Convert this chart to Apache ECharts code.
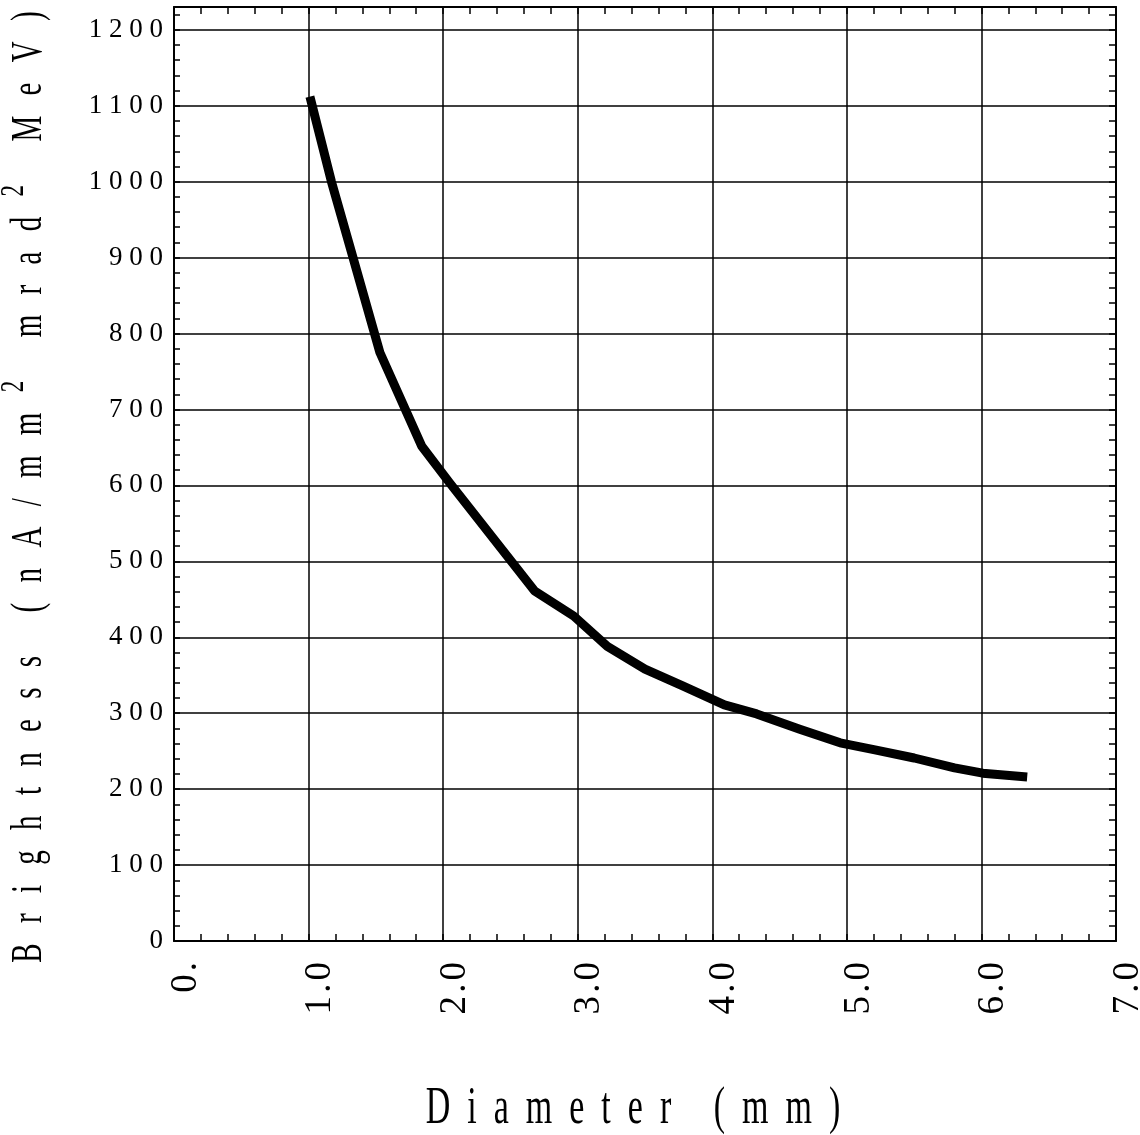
<!DOCTYPE html>
<html><head><meta charset="utf-8">
<script src="https://cdn.jsdelivr.net/npm/echarts@6/dist/echarts.min.js"></script>
<style>html,body{margin:0;padding:0;background:#fff}#c{width:1140px;height:1135px}</style>
</head><body><div id="c"></div>
<script>
// Data
const diameter   = [1.01, 1.17, 1.33, 1.53, 1.84, 2.05, 2.68, 2.97, 3.22, 3.50, 3.78, 4.09, 4.33, 4.65, 4.95, 5.20, 5.50, 5.80, 6.01, 6.34];
const brightness = [1112, 1000, 900,  775,  652,  603,  461,  428,  388,  358,  336,  311,  299,  279,  261,  252,  241,  228,  221,  216];
const xTickLabels = ['0.', '1.0', '2.0', '3.0', '4.0', '5.0', '6.0', '7.0'];
const yTickLabels = ['0', '100', '200', '300', '400', '500', '600', '700', '800', '900', '1000', '1100', '1200'];
const xTitle = 'Diameter (mm)';
const yTitleWords = ['Brightness', '(nA/mm{sup|2}', 'mrad{sup|2}', 'MeV)'];

function spaced(text, letterGap, wordGap) {
  return text.split(' ').map(w => Array.from(w).join(letterGap)).join(wordGap);
}
// spacing that keeps rich-text tags {sup|2} intact
function spacedRich(words, letterGap, wordGap) {
  return words.map(w => w.match(/\{[^}]*\}|./g).join(letterGap)).join(wordGap);
}
const FONT = '"Liberation Serif", "Times New Roman", serif';

const chart = echarts.init(document.getElementById('c'), null, {renderer: 'canvas'});
const XMIN = 0, XMAX = 7, YMIN = 0, YMAX = 1230;
const tickStyle = {color: '#000', width: 1.5};

chart.setOption({
  animation: false,
  backgroundColor: '#fff',
  grid: {left: 174, right: 24, top: 7, bottom: 194, containLabel: false, outerBoundsMode: 'none'},
  xAxis: [
    {
      type: 'value', position: 'bottom', min: XMIN, max: XMAX, interval: 1,
      axisLine: {show: true, onZero: false, lineStyle: {color: '#000', width: 2}},
      axisTick: {show: false},
      splitLine: {show: true, lineStyle: {color: '#000', width: 1.5}},
      axisLabel: {
        rotate: 90, margin: 21, color: '#000', fontFamily: FONT, fontSize: 37,
        verticalAlign: 'top', lineHeight: 24, hideOverlap: false,
        formatter: v => { const i = Math.round(v); return Math.abs(v - i) < 1e-6 && xTickLabels[i] !== undefined ? spaced(xTickLabels[i], '\u200A', '\u200A') : ''; }
      }
    },
    {
      type: 'value', position: 'bottom', min: XMIN, max: XMAX, interval: 0.2,
      axisLine: {show: false, onZero: false},
      axisTick: {show: true, inside: true, length: 7, lineStyle: tickStyle},
      splitLine: {show: false}, axisLabel: {show: false}
    },
    {
      type: 'value', position: 'top', min: XMIN, max: XMAX, interval: 0.2,
      axisLine: {show: true, onZero: false, lineStyle: {color: '#000', width: 2}},
      axisTick: {show: true, inside: true, length: 7, lineStyle: tickStyle},
      splitLine: {show: false}, axisLabel: {show: false}
    }
  ],
  yAxis: [
    {
      type: 'value', position: 'left', min: YMIN, max: YMAX, interval: 100,
      axisLine: {show: true, onZero: false, lineStyle: {color: '#000', width: 2}},
      axisTick: {show: false},
      splitLine: {show: true, lineStyle: {color: '#000', width: 1.5}},
      axisLabel: {
        margin: 11, color: '#000', fontFamily: FONT, fontSize: 27,
        formatter: v => { const i = Math.round(v / 100); return Math.abs(v - i * 100) < 1e-6 && yTickLabels[i] !== undefined ? spaced(yTickLabels[i], ' ', ' ') : ''; }
      }
    },
    {
      type: 'value', position: 'left', min: YMIN, max: YMAX, interval: 20,
      axisLine: {show: false, onZero: false},
      axisTick: {show: true, inside: true, length: 6, lineStyle: tickStyle},
      splitLine: {show: false}, axisLabel: {show: false}
    },
    {
      type: 'value', position: 'right', min: YMIN, max: YMAX, interval: 20,
      axisLine: {show: true, onZero: false, lineStyle: {color: '#000', width: 2}},
      axisTick: {show: true, inside: true, length: 7, lineStyle: tickStyle},
      splitLine: {show: false}, axisLabel: {show: false}
    }
  ],
  graphic: [
    {
      type: 'text', x: 633, y: 1109, scaleY: 1.55,
      style: {text: spaced(xTitle, '  ', '     '), font: '34px ' + FONT, fill: '#000', align: 'center', verticalAlign: 'middle'}
    },
    {
      type: 'text', x: 30, y: 487, rotation: Math.PI / 2, scaleY: 1.5,
      style: {
        text: spacedRich(yTitleWords, '  \u2009', '      '),
        fontFamily: FONT, fontSize: 29, fill: '#000', align: 'center', verticalAlign: 'middle',
        rich: {sup: {fontFamily: FONT, fontSize: 23, fill: '#000', verticalAlign: 'top', padding: [-8, 0, 0, 0]}}
      }
    }
  ],
  series: [{
    type: 'line', xAxisIndex: 0, yAxisIndex: 0,
    data: diameter.map((d, i) => [d, brightness[i]]),
    symbol: 'none', smooth: false,
    lineStyle: {color: '#000', width: 9, cap: 'butt', join: 'round'}
  }]
});
</script></body></html>
